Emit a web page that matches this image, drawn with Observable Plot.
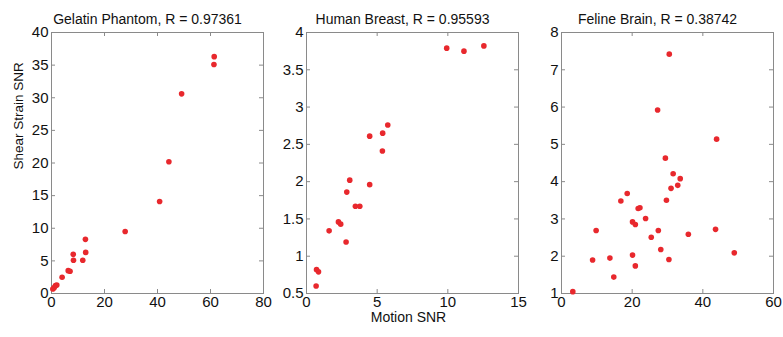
<!DOCTYPE html>
<html><head><meta charset="utf-8">
<script src="https://cdn.jsdelivr.net/npm/d3@7"></script>
<script src="https://cdn.jsdelivr.net/npm/@observablehq/plot@0.6"></script>
<style>
body{margin:0;background:#fff;}
#chart{position:relative;width:783px;height:337px;display:flex;}
#chart svg{overflow:visible;background:transparent;}
</style></head><body><div id="chart"></div>
<script>
// Gelatin Phantom
const gelatinMotion = [0.5, 1.0, 1.5, 2.0, 4.0, 6.3, 7.0, 8.2, 8.3, 11.8, 12.8, 12.9, 27.8, 40.8, 44.3, 49.1, 61.3, 61.4];
const gelatinStrain = [0.7, 0.9, 1.2, 1.3, 2.5, 3.5, 3.4, 6.0, 5.1, 5.1, 8.3, 6.3, 9.5, 14.1, 20.2, 30.6, 35.1, 36.3];
// Human Breast
const breastMotion = [0.68, 0.71, 0.85, 1.60, 2.26, 2.42, 2.80, 2.85, 3.06, 3.46, 3.77, 4.47, 4.47, 5.37, 5.39, 5.75, 9.92, 11.14, 12.55];
const breastStrain = [0.60, 0.82, 0.79, 1.34, 1.46, 1.43, 1.19, 1.86, 2.02, 1.67, 1.67, 1.96, 2.61, 2.41, 2.65, 2.76, 3.79, 3.75, 3.82];
// Feline Brain
const brainMotion = [3.2, 8.8, 9.8, 13.7, 14.8, 16.8, 18.6, 20.1, 20.1, 20.9, 20.9, 21.7, 22.2, 23.8, 25.4, 27.2, 27.4, 28.1, 29.4, 29.7, 30.4, 30.5, 31.0, 31.6, 32.9, 33.6, 35.9, 43.6, 43.9, 48.9];
const brainStrain = [1.05, 1.90, 2.69, 1.95, 1.44, 3.48, 3.68, 2.92, 2.03, 2.85, 1.74, 3.28, 3.30, 3.01, 2.51, 5.92, 2.69, 2.18, 4.63, 3.50, 1.91, 7.42, 3.82, 4.21, 3.90, 4.08, 2.59, 2.72, 5.14, 2.09];

const titles = ["Gelatin Phantom, R = 0.97361", "Human Breast, R = 0.95593", "Feline Brain, R = 0.38742"];
const xTickSets = [[0, 20, 40, 60, 80], [0, 5, 10, 15], [0, 20, 40, 60]];
const yTickSets = [[0, 5, 10, 15, 20, 25, 30, 35, 40], [0.5, 1, 1.5, 2, 2.5, 3, 3.5, 4], [1, 2, 3, 4, 5, 6, 7, 8]];
const yLabel = "Shear Strain SNR";
const xLabel = "Motion SNR";

const H = 337, MT = 32, MB = 44;
const gray = "#8a8a8a";
const red = "#e8282d";
const font = "'Liberation Sans', Arial, sans-serif";

const layouts = [
  {width: 276, ml: 51, mr: 13},
  {width: 261, ml: 30, mr: 19},
  {width: 246, ml: 24, mr: 10}
];
const xs = [gelatinMotion, breastMotion, brainMotion];
const ys = [gelatinStrain, breastStrain, brainStrain];

const root = document.getElementById("chart");
for (let p = 0; p < 3; p++) {
  const L = layouts[p];
  const ih = H - MT - MB;
  const iw = L.width - L.ml - L.mr;
  const xT = xTickSets[p], yT = yTickSets[p];
  const pts = xs[p].map((x, i) => ({x, y: ys[p][i]}));
  const marks = [
    Plot.frame({stroke: gray, strokeWidth: 1}),
    Plot.tickX(xT, {x: d => d, insetTop: ih - 4, stroke: gray}),
    Plot.tickX(xT, {x: d => d, insetBottom: ih - 4, stroke: gray}),
    Plot.tickY(yT, {y: d => d, insetRight: iw - 4, stroke: gray}),
    Plot.tickY(yT, {y: d => d, insetLeft: iw - 4, stroke: gray}),
    Plot.axisX(xT, {tickSize: 0, tickPadding: 3, label: null, fontSize: 15, tickFormat: d => String(d)}),
    Plot.axisY(yT, {tickSize: 0, tickPadding: 3, label: null, fontSize: 15, tickFormat: d => String(d)}),
    Plot.dot(pts, {x: "x", y: "y", r: 2.8, fill: red}),
    Plot.text([titles[p]], {frameAnchor: "top", dy: -18.7, dx: -10, fontSize: 14})
  ];
  if (p === 0) marks.push(Plot.text([yLabel], {frameAnchor: "left", rotate: -90, dx: -32.5, dy: 6.5, fontSize: 13.5}));
  if (p === 1) marks.push(Plot.text([xLabel], {frameAnchor: "bottom", dy: 28.8, dx: -4, fontSize: 14}));
  const chart = Plot.plot({
    width: L.width, height: H,
    marginLeft: L.ml, marginRight: L.mr, marginTop: MT, marginBottom: MB,
    style: {fontFamily: font, color: "#111", background: "transparent", overflow: "visible"},
    x: {domain: [xT[0], xT[xT.length - 1]], axis: null},
    y: {domain: [yT[0], yT[yT.length - 1]], axis: null},
    marks
  });
  root.appendChild(chart);
}
</script>
</body></html>
